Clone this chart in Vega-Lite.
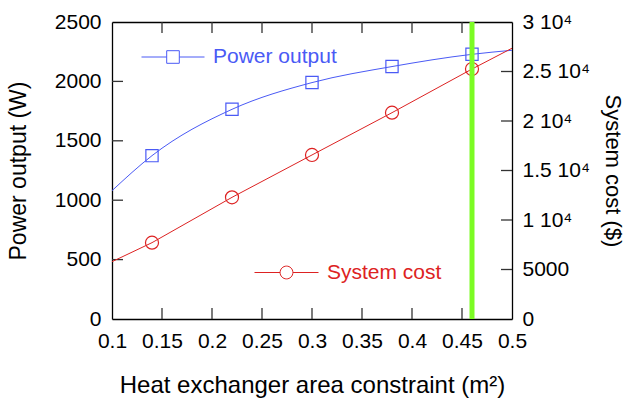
{
  "$schema": "https://vega.github.io/schema/vega-lite/v6.json",
  "width": 400,
  "height": 297,
  "autosize": {"type": "none"},
  "padding": {"left": 112, "top": 22, "right": 115, "bottom": 80},
  "background": "white",
  "config": {
    "font": "Liberation Sans",
    "view": {"stroke": null},
    "axis": {
      "grid": false,
      "ticks": false,
      "domain": true,
      "domainColor": "black",
      "domainWidth": 1.3,
      "labelFont": "Liberation Sans",
      "labelFontSize": 21,
      "labelColor": "black",
      "labelFlush": false,
      "labelOverlap": false,
      "labelBound": false,
      "titleFont": "Liberation Sans",
      "titleFontSize": 23,
      "titleFontWeight": "normal",
      "titleColor": "black"
    },
    "legend": {
      "labelFont": "Liberation Sans",
      "labelFontSize": 21,
      "padding": 0,
      "labelOffset": 8,
      "titleOpacity": 0
    }
  },
  "datasets": {
    "power": [
      {"area": 0.1, "power": 1080},
      {"area": 0.14, "power": 1375},
      {"area": 0.22, "power": 1765},
      {"area": 0.3, "power": 1990},
      {"area": 0.38, "power": 2125},
      {"area": 0.46, "power": 2228},
      {"area": 0.5, "power": 2262}
    ],
    "cost": [
      {"area": 0.1, "cost": 5790},
      {"area": 0.14, "cost": 7710},
      {"area": 0.22, "cost": 12290},
      {"area": 0.3, "cost": 16570},
      {"area": 0.38, "cost": 20840},
      {"area": 0.46, "cost": 25250},
      {"area": 0.5, "cost": 27350}
    ],
    "constraint": [{"area": 0.46}],
    "xticks": [{"v": 0.15}, {"v": 0.2}, {"v": 0.25}, {"v": 0.3}, {"v": 0.35}, {"v": 0.4}, {"v": 0.45}],
    "powerticks": [{"v": 500}, {"v": 1000}, {"v": 1500}, {"v": 2000}],
    "costticks": [{"v": 5000}, {"v": 10000}, {"v": 15000}, {"v": 20000}, {"v": 25000}]
  },
  "resolve": {"scale": {"y": "independent", "color": "independent"}},
  "layer": [
    {
      "data": {"name": "xticks"},
      "mark": {"type": "tick", "orient": "vertical", "size": 22, "thickness": 1.3, "color": "#333333", "opacity": 1, "clip": true},
      "encoding": {
        "x": {"field": "v", "type": "quantitative", "scale": {"domain": [0.1, 0.5]}, "axis": null},
        "y": {"datum": 0, "type": "quantitative", "scale": {"domain": [0, 2500]}, "axis": null}
      }
    },
    {
      "data": {"name": "xticks"},
      "mark": {"type": "tick", "orient": "vertical", "size": 22, "thickness": 1.3, "color": "#333333", "opacity": 1, "clip": true},
      "encoding": {
        "x": {"field": "v", "type": "quantitative", "scale": {"domain": [0.1, 0.5]}, "axis": null},
        "y": {"datum": 2500, "type": "quantitative", "scale": {"domain": [0, 2500]}, "axis": null}
      }
    },
    {
      "data": {"name": "powerticks"},
      "mark": {"type": "tick", "orient": "horizontal", "size": 22, "thickness": 1.3, "color": "#333333", "opacity": 1, "clip": true},
      "encoding": {
        "x": {"datum": 0.1, "type": "quantitative", "scale": {"domain": [0.1, 0.5]}, "axis": null},
        "y": {"field": "v", "type": "quantitative", "scale": {"domain": [0, 2500]}, "axis": null}
      }
    },
    {
      "data": {"name": "costticks"},
      "mark": {"type": "tick", "orient": "horizontal", "size": 22, "thickness": 1.3, "color": "#333333", "opacity": 1, "clip": true},
      "encoding": {
        "x": {"datum": 0.5, "type": "quantitative", "scale": {"domain": [0.1, 0.5]}, "axis": null},
        "y": {"field": "v", "type": "quantitative", "scale": {"domain": [0, 30000]}, "axis": null}
      }
    },
    {
      "data": {"name": "power"},
      "mark": {"type": "line", "interpolate": "monotone", "strokeWidth": 1},
      "encoding": {
        "x": {"field": "area", "type": "quantitative", "scale": {"domain": [0.1, 0.5]},
          "axis": {"orient": "bottom", "values": [0.1, 0.15, 0.2, 0.25, 0.3, 0.35, 0.4, 0.45, 0.5], "labelExpr": "'' + datum.value", "labelPadding": 11, "title": "Heat exchanger area constraint (m²)", "titleFontSize": 24, "titlePadding": 22}},
        "y": {"field": "power", "type": "quantitative", "scale": {"domain": [0, 2500]},
          "axis": {"orient": "left", "values": [0, 500, 1000, 1500, 2000, 2500], "format": "d", "labelPadding": 11, "title": "Power output (W)", "titlePadding": 24}},
        "color": {"datum": "Power output", "scale": {"range": ["#4a5af5"]},
          "legend": {"orient": "none", "legendX": 29, "legendY": 3, "symbolType": "M-1,0H-0.2M0.2,0H1M-0.2,-0.2H0.2V0.2H-0.2Z", "symbolSize": 3969, "symbolStrokeWidth": 1, "symbolFillColor": "transparent", "labelColor": "#4a5af5"}}
      }
    },
    {
      "data": {"name": "power"},
      "transform": [{"filter": "datum.area > 0.11 && datum.area < 0.49"}],
      "mark": {"type": "point", "shape": "square", "size": 150, "filled": false, "color": "#4a5af5", "strokeWidth": 1.2, "opacity": 1},
      "encoding": {
        "x": {"field": "area", "type": "quantitative", "scale": {"domain": [0.1, 0.5]}, "axis": null},
        "y": {"field": "power", "type": "quantitative", "scale": {"domain": [0, 2500]}, "axis": null}
      }
    },
    {
      "data": {"name": "cost"},
      "mark": {"type": "line", "strokeWidth": 1},
      "encoding": {
        "x": {"field": "area", "type": "quantitative", "scale": {"domain": [0.1, 0.5]}, "axis": null},
        "y": {"field": "cost", "type": "quantitative", "scale": {"domain": [0, 30000]},
          "axis": {"orient": "right", "values": [0, 5000, 10000, 15000, 20000, 25000, 30000], "labelPadding": 10, "labelExpr": "datum.value >= 10000 ? (datum.value / 10000) + ' 10⁴' : '' + datum.value", "title": "System cost ($)", "titleFontSize": 22, "titlePadding": 11}},
        "color": {"datum": "System cost", "scale": {"range": ["#dd2222"]},
          "legend": {"orient": "none", "legendX": 142, "legendY": 218, "symbolType": "M-1,0H-0.2M0.2,0H1M-0.2,0A0.2,0.2,0,1,1,0.2,0A0.2,0.2,0,1,1,-0.2,0Z", "symbolSize": 4096, "symbolStrokeWidth": 1, "symbolFillColor": "transparent", "labelColor": "#dd2222"}}
      }
    },
    {
      "data": {"name": "cost"},
      "transform": [{"filter": "datum.area > 0.11 && datum.area < 0.49"}],
      "mark": {"type": "point", "shape": "circle", "size": 170, "filled": false, "color": "#dd2222", "strokeWidth": 1.2, "opacity": 1},
      "encoding": {
        "x": {"field": "area", "type": "quantitative", "scale": {"domain": [0.1, 0.5]}, "axis": null},
        "y": {"field": "cost", "type": "quantitative", "scale": {"domain": [0, 30000]}, "axis": null}
      }
    },
    {
      "data": {"name": "constraint"},
      "mark": {"type": "rule", "color": "#7cfc24", "strokeWidth": 5},
      "encoding": {
        "x": {"field": "area", "type": "quantitative", "scale": {"domain": [0.1, 0.5]},
          "axis": {"orient": "top", "labels": false, "title": null}}
      }
    }
  ]
}
